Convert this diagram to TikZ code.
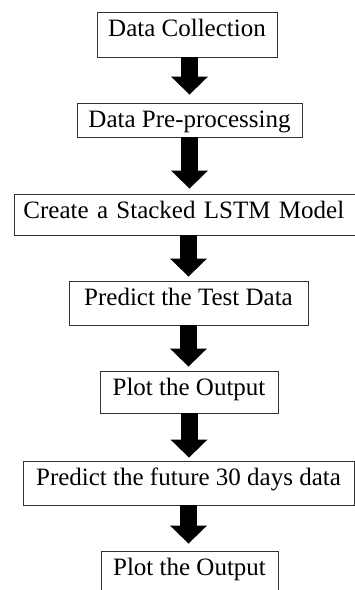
\documentclass[tikz,border=0pt]{standalone}
\usepackage{fontspec}
\setmainfont{Liberation Serif}
\usetikzlibrary{arrows.meta}

\begin{document}
\begin{tikzpicture}[x=1pt,y=1pt]
\tikzstyle{every node}+=[font=\fontsize{25}{30}\selectfont]
\tikzstyle{stagebox}=[draw=black!80,line width=0.9pt,anchor=base,inner xsep=0pt,inner ysep=6pt,text height=18pt]
\tikzstyle{bigarrow}=[line width=17pt,shorten >=5pt,-{Triangle[width=37pt,length=18pt,line width=0pt]}]
\useasboundingbox (0,0) rectangle (355,-590);
\node [stagebox,minimum width=180pt,text depth=15pt] (collect) at (187,-36) {Data Collection};
\node [stagebox,minimum width=225pt,text depth=4pt] (prep) at (189.5,-127) {Data Pre-processing};
\node [stagebox,anchor=base west,inner xsep=9pt,text width=345pt,align=left,text depth=11pt] (model) at (14,-218) {Create a Stacked LSTM Model};
\node [stagebox,minimum width=239pt,text depth=14pt] (testpred) at (188.5,-305) {Predict the Test Data};
\node [stagebox,minimum width=178pt,text depth=12pt] (plotone) at (189,-395) {Plot the Output};
\node [stagebox,minimum width=331pt,text depth=14pt] (future) at (188.5,-485) {Predict the future 30 days data};
\node [stagebox,minimum width=177pt,text depth=14pt] (plottwo) at (189.5,-575) {Plot the Output};
\draw [bigarrow,shorten >=8pt] (prep.north |- collect.south) -- (prep.north);
\draw [bigarrow] (prep.south) -- (prep.south |- model.north);
\draw [bigarrow,shorten >=4pt] (testpred.north |- model.south) -- (testpred.north);
\draw [bigarrow,shorten >=4pt] (testpred.south) -- (testpred.south |- plotone.north);
\draw [bigarrow,shorten >=3pt] (plotone.south) -- (plotone.south |- future.north);
\draw [bigarrow,shorten >=7pt] (future.south) -- (future.south |- plottwo.north);
\end{tikzpicture}
\end{document}
